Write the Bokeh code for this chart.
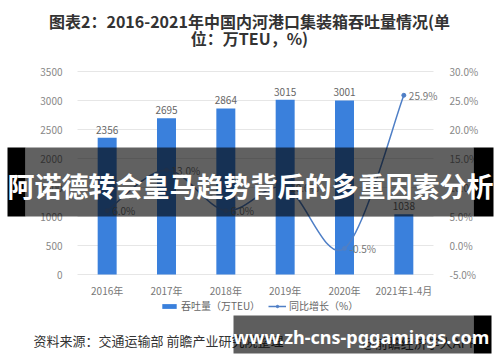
from bokeh.plotting import figure
from bokeh.models import (Range1d, LinearAxis, FixedTicker, PrintfTickFormatter,
                          Label, BoxAnnotation, Legend, LegendItem, ColumnDataSource)
from bokeh.core.properties import value
from bokeh.embed import file_html
from bokeh.resources import INLINE

# ---- data ----
categories = ["2016年", "2017年", "2018年", "2019年", "2020年", "2021年1-4月"]
throughput = [2356, 2695, 2864, 3015, 3001, 1038]      # 万TEU
growth = [6.0, 13.0, 6.0, 10.0, -0.5, 25.9]             # %
left_ticks = [0, 500, 1000, 1500, 2000, 2500, 3000, 3500]
right_ticks = [-5, 0, 5, 10, 15, 20, 25, 30]
title_lines = ["图表2：2016-2021年中国内河港口集装箱吞吐量情况(单", "位：万TEU，%)"]
legend_labels = ["吞吐量（万TEU）", "同比增长（%）"]
source_text = "资料来源：交通运输部 前瞻产业研究院整理"
app_text = "@前瞻经济学人APP"
banner_text = "阿诺德转会皇马趋势背后的多重因素分析"
site_text = "www.zh-cns-pggamings.com"

FONT = "Noto Sans CJK SC"
BAR_COLOR = "#3a80dc"
LINE_COLOR = "#4f7fc6"

# ---- layout geometry (canvas px) ----
W, H = 500, 362
CL, CR, CT, CB = 77, 433, 71, 274      # chart area inside the full-canvas frame
n = len(categories)
xpp = n / (CR - CL)                    # x data units per px
lpp = (left_ticks[-1] - left_ticks[0]) / (CB - CT)
rpp = (right_ticks[-1] - right_ticks[0]) / (CB - CT)

x_range = Range1d(-CL * xpp, n + (W - CR) * xpp)
y_range = Range1d(left_ticks[0] - (H - CB) * lpp, left_ticks[-1] + CT * lpp)
pct_range = Range1d(right_ticks[0] - (H - CB) * rpp, right_ticks[-1] + CT * rpp)

def sx(cx):
    return cx

def sy(cy):
    return H - cy

p = figure(width=W, height=H, x_range=x_range, y_range=y_range,
           output_backend="svg", toolbar_location=None, min_border=0)
p.title.visible = False
p.outline_line_color = None
p.background_fill_color = "white"
p.border_fill_color = "white"
p.xgrid.visible = False
p.ygrid.visible = False
p.extra_y_ranges = {"pct": pct_range}

xs = [i + 0.5 for i in range(n)]

# left axis (fixed at chart's left edge)
ya = p.yaxis[0]
ya.ticker = FixedTicker(ticks=left_ticks)
ya.fixed_location = 0
ya.axis_line_color = None
ya.major_tick_line_color = None
ya.minor_tick_line_color = None
ya.major_label_standoff = 9
ya.major_label_text_font = FONT
ya.major_label_text_font_size = "10px"
ya.major_label_text_color = "#888888"

# right axis
ra = LinearAxis(y_range_name="pct", ticker=FixedTicker(ticks=right_ticks),
                formatter=PrintfTickFormatter(format="%.1f%%"), fixed_location=n)
ra.axis_line_color = None
ra.major_tick_line_color = None
ra.minor_tick_line_color = None
ra.major_label_standoff = 10
ra.major_label_text_font = FONT
ra.major_label_text_font_size = "10px"
ra.major_label_text_color = "#888888"
p.add_layout(ra, "right")

# bottom axis
xa = p.xaxis[0]
xa.ticker = FixedTicker(ticks=xs)
xa.major_label_overrides = {x: c for x, c in zip(xs, categories)}
xa.fixed_location = 0
xa.axis_line_color = None
xa.major_tick_line_color = None
xa.minor_tick_line_color = None
xa.major_label_standoff = 2
xa.major_label_text_font = FONT
xa.major_label_text_font_size = "10px"
xa.major_label_text_color = "#777777"

# horizontal grid lines across the chart area
p.segment(x0=[0] * len(left_ticks), x1=[n] * len(left_ticks), y0=left_ticks,
          y1=left_ticks, line_color="#e6e6e6", line_width=1)

# bars
src = ColumnDataSource(dict(x=xs, val=throughput,
                            lab=[str(v) for v in throughput],
                            g=growth, glab=[f"{v:.1f}%" for v in growth]))
bars = p.vbar(x="x", top="val", width=0.32, source=src, fill_color=BAR_COLOR,
              line_color=None)
p.text(x="x", y="val", text="lab", source=src, text_align="center",
       text_baseline="bottom", y_offset=-4, text_font=value(FONT),
       text_font_size="10px", text_color="#666666")

# smooth line through growth points (Catmull-Rom -> cubic bezier)
x0, y0, x1, y1, cx0, cy0, cx1, cy1 = [], [], [], [], [], [], [], []
for i in range(n - 1):
    ip = max(i - 1, 0)
    inn = min(i + 2, n - 1)
    x0.append(xs[i]); y0.append(growth[i])
    x1.append(xs[i + 1]); y1.append(growth[i + 1])
    cx0.append(xs[i] + (xs[i + 1] - xs[ip]) / 6)
    cy0.append(growth[i] + (growth[i + 1] - growth[ip]) / 6)
    cx1.append(xs[i + 1] - (xs[inn] - xs[i]) / 6)
    cy1.append(growth[i + 1] - (growth[inn] - growth[i]) / 6)
curve = p.bezier(x0=x0, y0=y0, x1=x1, y1=y1, cx0=cx0, cy0=cy0, cx1=cx1, cy1=cy1,
                 line_color=LINE_COLOR, line_width=1.5, y_range_name="pct")
dots = p.scatter(x="x", y="g", source=src, size=4, fill_color=LINE_COLOR,
                 line_color=LINE_COLOR, y_range_name="pct")
p.text(x="x", y="g", text="glab", source=src, y_range_name="pct",
       text_align="left", text_baseline="middle", x_offset=5,
       text_font=value(FONT), text_font_size="10px", text_color="#777777")

# legend
legend = Legend(items=[LegendItem(label=legend_labels[0], renderers=[bars]),
                       LegendItem(label=legend_labels[1], renderers=[curve, dots])],
                orientation="horizontal", location=(sx(160), sy(313)),
                padding=0, margin=0, spacing=8, label_standoff=3,
                glyph_width=18, glyph_height=6, label_height=14,
                label_text_font=FONT, label_text_font_size="10px",
                label_text_color="#666666", background_fill_alpha=0,
                border_line_color=None)
p.add_layout(legend, "center")

# title
for t, cy in zip(title_lines, [20, 37]):
    p.add_layout(Label(x=sx(249), y=sy(cy), x_units="screen", y_units="screen",
                       text=t, text_align="center", text_baseline="middle",
                       text_font=FONT, text_font_style="bold",
                       text_font_size="16px", text_color="#333333"))

# source line and app tag
p.add_layout(Label(x=sx(33), y=sy(340), x_units="screen", y_units="screen",
                   text=source_text, text_align="left", text_baseline="middle",
                   text_font=FONT, text_font_size="13px", text_color="#333333"))
p.add_layout(Label(x=sx(362), y=sy(342), x_units="screen", y_units="screen",
                   text=app_text, text_align="left", text_baseline="middle",
                   text_font=FONT, text_font_size="13px", text_color="#333333"))

def box(l, r, t, b, alpha):
    p.add_layout(BoxAnnotation(left=sx(l), right=sx(r), top=sy(t), bottom=sy(b),
                               left_units="screen", right_units="screen",
                               top_units="screen", bottom_units="screen",
                               fill_color="black", fill_alpha=alpha,
                               line_color=None, level="overlay"))

# central banner
box(7, 25, 147, 216, 1)
box(25, 473, 147, 216, 0.62)
box(473, 493, 147, 216, 1)
banner = Label(x=sx(250), y=sy(185), x_units="screen", y_units="screen",
               text=banner_text, text_align="center", text_baseline="middle",
               text_font=FONT, text_font_style="bold", text_font_size="27px",
               text_color="white", level="overlay")
p.add_layout(banner)

# bottom site box
box(233, 473, 315, 353, 0.63)
box(473, 491, 315, 353, 1)
site = Label(x=sx(361), y=sy(336), x_units="screen", y_units="screen",
             text=site_text, text_align="center", text_baseline="middle",
             text_font="Noto Sans", text_font_style="bold", text_font_size="18px",
             text_color="white", level="overlay")
p.add_layout(site)

open("out.html", "w").write(file_html(p, INLINE))
